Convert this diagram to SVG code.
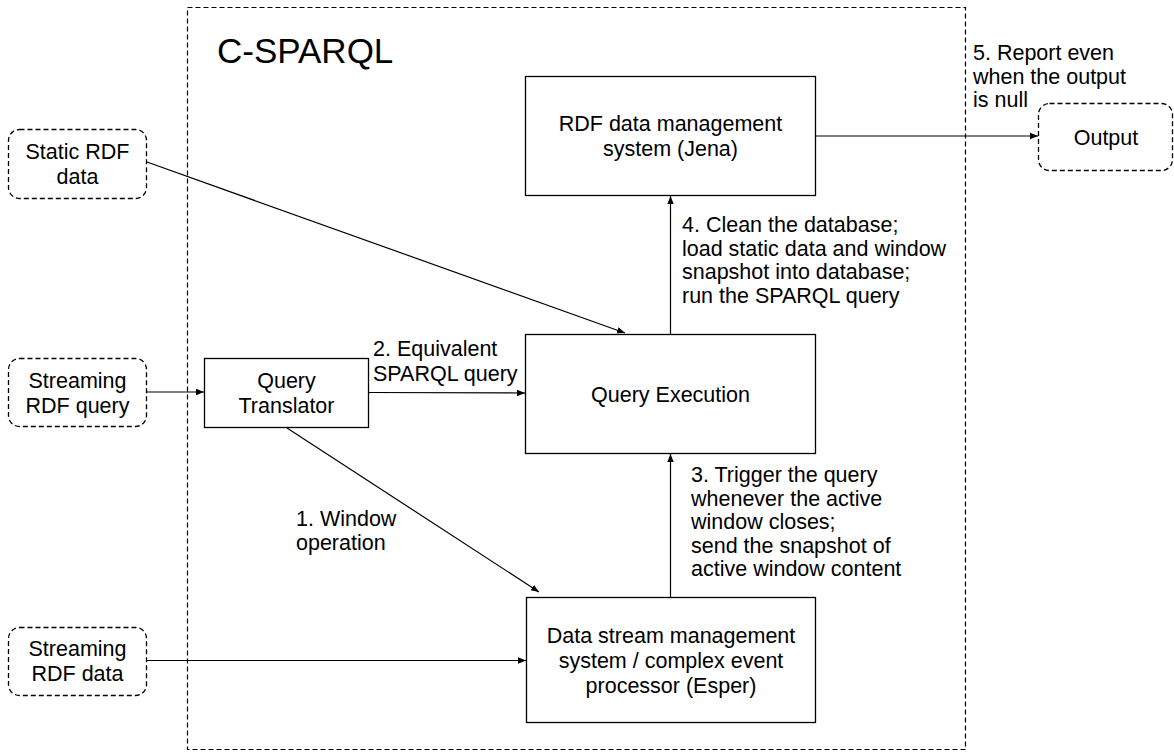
<svg xmlns="http://www.w3.org/2000/svg" width="1174" height="756" viewBox="0 0 1174 756">
  <defs>
    <marker id="arrow" viewBox="0 0 10 10" refX="10" refY="5" markerWidth="8" markerHeight="8" markerUnits="userSpaceOnUse" orient="auto">
      <path d="M0,1 L10,5 L0,9 z" fill="#000"/>
    </marker>
    <style>
      text { font-family: "Liberation Sans", Arial, sans-serif; font-size: 21.5px; fill: #000; }
      .box { fill: #fff; stroke: #000; stroke-width: 1.3; }
      .ext { fill: #fff; stroke: #000; stroke-width: 1.3; stroke-dasharray: 5 3; }
      .frame { fill: none; stroke: #000; stroke-width: 1.2; stroke-dasharray: 5 3; }
      .edge { fill: none; stroke: #000; stroke-width: 1.2; marker-end: url(#arrow); }
      .c { text-anchor: middle; }
      .title { font-size: 35px; }
    </style>
  </defs>

  <rect width="1174" height="756" fill="#fff"/>

  <!-- system boundary -->
  <g id="c-sparql">
    <rect class="frame" x="187.5" y="7.5" width="778" height="742"/>
    <text class="title" x="217" y="63">C-SPARQL</text>
  </g>

  <!-- external inputs / outputs -->
  <g id="static-rdf-data">
    <rect class="ext" x="8.5" y="129.5" width="138" height="69" rx="11"/>
    <text class="c" x="77.5" y="158.5">Static RDF</text>
    <text class="c" x="77.5" y="183.5">data</text>
  </g>
  <g id="streaming-rdf-query">
    <rect class="ext" x="8.5" y="358.5" width="138" height="68" rx="11"/>
    <text class="c" x="77.5" y="387.5">Streaming</text>
    <text class="c" x="77.5" y="412.5">RDF query</text>
  </g>
  <g id="streaming-rdf-data">
    <rect class="ext" x="8.5" y="627.5" width="138" height="68" rx="11"/>
    <text class="c" x="77.5" y="656">Streaming</text>
    <text class="c" x="77.5" y="681">RDF data</text>
  </g>
  <g id="output">
    <rect class="ext" x="1038.5" y="103.5" width="134" height="67" rx="11"/>
    <text class="c" x="1106" y="144.5">Output</text>
  </g>

  <!-- internal components -->
  <g id="query-translator">
    <rect class="box" x="204.5" y="358.5" width="164" height="69"/>
    <text class="c" x="286.5" y="387.5">Query</text>
    <text class="c" x="286.5" y="412.5">Translator</text>
  </g>
  <g id="rdf-data-management">
    <rect class="box" x="525.5" y="76.5" width="290" height="119"/>
    <text class="c" x="670.5" y="131">RDF data management</text>
    <text class="c" x="670.5" y="156">system (Jena)</text>
  </g>
  <g id="query-execution">
    <rect class="box" x="525.5" y="334.5" width="290" height="119"/>
    <text class="c" x="670.5" y="401.5">Query Execution</text>
  </g>
  <g id="dsms">
    <rect class="box" x="526.5" y="597.5" width="289" height="125"/>
    <text class="c" x="671" y="643">Data stream management</text>
    <text class="c" x="671" y="668">system / complex event</text>
    <text class="c" x="671" y="693">processor (Esper)</text>
  </g>

  <!-- connectors -->
  <g id="connectors">
    <line class="edge" x1="147" y1="162" x2="625" y2="333"/>
    <line class="edge" x1="147" y1="392" x2="204" y2="392"/>
    <line class="edge" x1="369" y1="392.5" x2="525" y2="393"/>
    <line class="edge" x1="287" y1="428" x2="539" y2="592"/>
    <line class="edge" x1="147" y1="660.5" x2="526" y2="660.5"/>
    <line class="edge" x1="670.5" y1="597" x2="670.5" y2="454"/>
    <line class="edge" x1="670.5" y1="334" x2="670.5" y2="196"/>
    <line class="edge" x1="816" y1="136" x2="1038" y2="136"/>
  </g>

  <!-- connector labels -->
  <g id="labels">
    <text x="296" y="526">1. Window</text>
    <text x="296" y="549.5">operation</text>
    <text x="373" y="356">2. Equivalent</text>
    <text x="373" y="381">SPARQL query</text>
    <text x="691" y="482">3. Trigger the query</text>
    <text x="691" y="505.5">whenever the active</text>
    <text x="691" y="529">window closes;</text>
    <text x="691" y="552.5">send the snapshot of</text>
    <text x="691" y="576">active window content</text>
    <text x="682" y="232">4. Clean the database;</text>
    <text x="682" y="255.5">load static data and window</text>
    <text x="682" y="279">snapshot into database;</text>
    <text x="682" y="302.5">run the SPARQL query</text>
    <text x="973" y="60">5. Report even</text>
    <text x="973" y="83.5">when the output</text>
    <text x="973" y="107">is null</text>
  </g>
</svg>
